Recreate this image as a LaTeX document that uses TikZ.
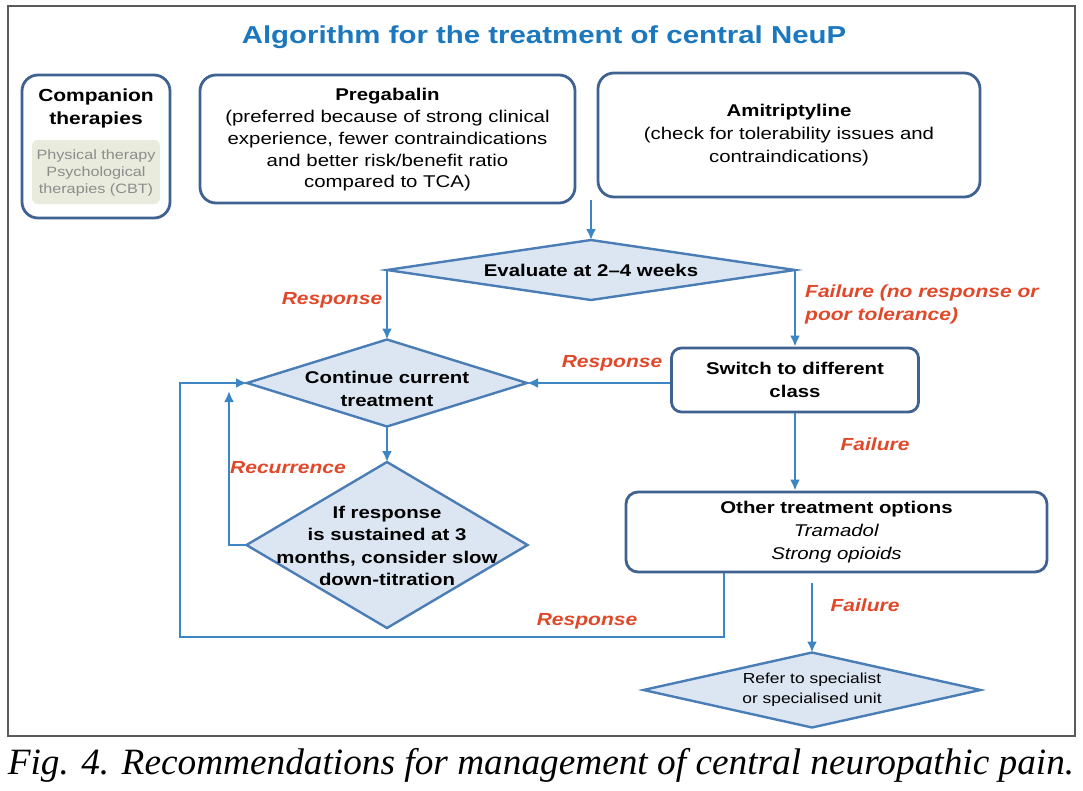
\documentclass[tikz,border=0pt]{standalone}
\usepackage{fontspec}
\setmainfont{Liberation Sans}[FakeStretch=1.2]
\newfontfamily\capfont{Liberation Serif}
\usetikzlibrary{shapes.geometric,arrows.meta}
\definecolor{diafill}{HTML}{DCE6F2}
\definecolor{diadraw}{HTML}{4A7DB5}
\definecolor{boxdraw}{HTML}{3F6290}
\definecolor{arrcol}{HTML}{3D86C6}
\definecolor{lblred}{HTML}{E0482A}
\definecolor{titleblue}{HTML}{1B78BE}
\definecolor{graytxt}{HTML}{8C8C8C}
\definecolor{innerfill}{HTML}{E9EBDD}
\definecolor{framecol}{HTML}{5A5A5A}
\tikzset{
  rbox/.style={draw=boxdraw, line width=2.8pt, rounded corners=16pt, fill=white, inner sep=0pt},
  dia/.style={diamond, draw=diadraw, line width=2.4pt, fill=diafill, inner sep=0pt, outer sep=0pt},
  txt/.style={align=center, inner sep=0pt, font=\fontsize{17}{22.5}\selectfont\bfseries},
  rtxt/.style={align=center, inner sep=0pt, font=\fontsize{17}{21.75}\selectfont},
  lbl/.style={inner sep=0pt, text=lblred, font=\fontsize{17.5}{23}\selectfont\bfseries\itshape},
  arr/.style={draw=arrcol, line width=2.3pt, -{Latex[length=11pt,width=10pt]}},
}
\begin{document}
\begin{tikzpicture}[x=1pt,y=-1pt]
\useasboundingbox (0,0) rectangle (1083,790);
\draw[framecol, line width=2.2pt] (8,6) rectangle (1075,736);

\node[inner sep=0pt, text=titleblue, font=\fontsize{24.5}{28}\selectfont\bfseries] (title) at (544,37) {Algorithm for the treatment of central NeuP};

% companion
\node[rbox, minimum width=148pt, minimum height=143pt] (comp) at (96,146.5) {};
\node[fill=innerfill, rounded corners=6pt, minimum width=128pt, minimum height=64pt, inner sep=0pt] (compin) at (96,172) {};
\node[txt, font=\fontsize{17.5}{23}\selectfont\bfseries] (compt) at (96,108.5) {Companion\\therapies};
\node[align=center, inner sep=0pt, text=graytxt, font=\fontsize{13.5}{17}\selectfont] (compg) at (96,173) {Physical therapy\\Psychological\\therapies (CBT)};

% top boxes
\node[rbox, minimum width=375pt, minimum height=128pt] (preg) at (387.5,139) {};
\node[rtxt] (pregt) at (387.5,140) {\textbf{Pregabalin}\\(preferred because of strong clinical\\experience, fewer contraindications\\and better risk/benefit ratio\\compared to TCA)};
\node[rbox, minimum width=382pt, minimum height=124pt] (ami) at (789,135) {};
\node[rtxt, font=\fontsize{17}{23}\selectfont] (amit) at (789,135) {\textbf{Amitriptyline}\\(check for tolerability issues and\\contraindications)};

% diamonds
\node[dia, minimum width=408pt, minimum height=60pt] (ev) at (591,270) {};
\node[txt] (evt) at (591,270) {Evaluate at 2--4 weeks};
\node[dia, minimum width=280pt, minimum height=87pt] (cont) at (387,383) {};
\node[txt] (contt) at (387,389) {Continue current\\treatment};
\node[dia, minimum width=281pt, minimum height=166pt] (ifd) at (387,545) {};
\node[txt] (ifdt) at (387,546) {If response\\is sustained at 3\\months, consider slow\\down-titration};
\node[dia, minimum width=337pt, minimum height=75pt] (ref) at (812,690) {};
\node[rtxt, font=\fontsize{14.5}{20}\selectfont] (reft) at (812,690) {Refer to specialist\\or specialised unit};

% right boxes
\node[rbox, rounded corners=10pt, minimum width=247pt, minimum height=64pt] (sw) at (795,380) {};
\node[txt] (swt) at (795,380) {Switch to different\\class};
\node[rbox, rounded corners=12pt, minimum width=421pt, minimum height=80pt] (oth) at (836.5,532) {};
\node[txt, font=\fontsize{17}{23}\selectfont] (otht) at (836.5,532) {\textbf{Other treatment options}\\\textit{Tramadol}\\\textit{Strong opioids}};

% coordinates
\coordinate (pgtop) at (591,200);
\coordinate (rec) at (229,391);
\coordinate (lx) at (724,0);
\coordinate (lb) at (180,637);
\coordinate (fs) at (812,583);

% connectors
\draw[arr] (pgtop) -- (ev.north);
\draw[arr] (ev.west) -- (cont.north);
\draw[arr] (ev.east) -- (ev.east |- sw.north);
\draw[arr] (sw.west |- cont.east) -- (cont.east);
\draw[arr] (cont.south) -- (ifd.north);
\draw[arr] (ifd.west) -| (rec);
\draw[arr] (sw.south) -- (sw.south |- oth.north);
\draw[arr] (lx |- oth.south) |- (lb) |- (cont.west);
\draw[arr] (fs) -- (ref.north);

% labels
\node[lbl] (l1) at (332,300) {Response};
\node[lbl, anchor=west, align=left, font=\fontsize{17.5}{23}\selectfont\bfseries\itshape] (l2) at (805,304.5) {Failure (no response or\\poor tolerance)};
\node[lbl] (l3) at (612,363) {Response};
\node[lbl] (l4) at (288,468) {Recurrence};
\node[lbl] (l5) at (875,444) {Failure};
\node[lbl] (l6) at (587,621) {Response};
\node[lbl] (l7) at (865,605) {Failure};

% caption
\node[inner sep=0pt] (cap) at (541,765) {\resizebox*{1066pt}{34pt}{\capfont\itshape Fig. 4. Recommendations for management of central neuropathic pain.}};
\end{tikzpicture}
\end{document}
